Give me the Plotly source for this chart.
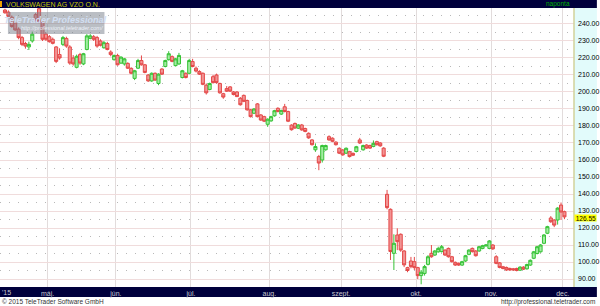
import numpy as np
import pandas as pd
import plotly.graph_objects as go

# ---- data ----
dates = pd.bdate_range("2015-04-14", "2015-12-01", freq="C", holidays=["2015-05-01"])

opens = [248.2, 247.0, 244.0, 240.5, 237.0, 232.0, 228.5, 226.5, 230.0, 245.5,
         249.0, 241.0, 234.0, 232.5, 231.0, 226.5, 222.0, 228.0, 231.5, 226.5,
         220.0, 214.5, 222.0, 216.5, 225.0, 231.5, 232.5, 232.0, 230.0, 226.0,
         228.5, 223.5, 219.0, 221.5, 217.0, 216.5, 216.8, 213.9, 208.0, 214.0,
         218.5, 216.0, 210.0, 206.5, 211.0, 205.0, 213.5, 215.0, 219.0, 220.8,
         215.5, 216.5, 208.5, 211.0, 211.0, 217.9, 214.0, 212.0, 211.0, 204.0,
         201.5, 209.0, 210.0, 205.0, 199.0, 202.0, 203.0, 200.0, 200.0, 196.3,
         198.0, 195.0, 189.5, 187.5, 193.0, 186.5, 185.5, 181.0, 183.0, 186.0,
         190.4, 187.0, 191.3, 188.5, 180.5, 181.5, 178.7, 180.6, 178.5, 175.7,
         171.8, 166.0, 162.0, 160.0, 166.0, 173.7, 172.8, 170.5, 166.9, 165.9,
         164.0, 164.9, 163.9, 165.0, 171.8, 166.0, 168.8, 168.5, 168.0, 170.8,
         170.0, 167.0, 139.8, 131.0, 105.1, 115.9, 116.3, 106.5, 96.7, 100.6,
         100.2, 96.7, 92.0, 93.3, 98.6, 105.1, 104.1, 106.0, 106.1, 107.0,
         108.0, 103.1, 99.8, 99.2, 98.2, 100.6, 104.5, 108.0, 106.5, 106.5,
         108.0, 109.5, 108.0, 110.0, 103.1, 99.5, 97.2, 96.8, 96.2, 96.0,
         96.2, 95.2, 97.0, 96.0, 98.2, 102.2, 105.0, 106.0, 111.0, 116.9,
         125.9, 124.7, 124.7, 133.5, 129.6]
highs = [249.0, 248.0, 245.0, 241.5, 238.0, 233.0, 229.5, 229.6, 235.5, 246.5,
         250.0, 242.0, 235.0, 233.5, 232.0, 227.0, 225.7, 233.0, 232.5, 227.5,
         221.7, 222.0, 223.0, 223.0, 234.0, 234.0, 233.5, 233.0, 231.0, 230.0,
         229.5, 224.5, 222.0, 222.5, 221.0, 220.0, 217.5, 214.5, 213.0, 219.5,
         221.5, 216.5, 210.5, 211.5, 211.5, 211.0, 214.0, 219.0, 224.0, 221.5,
         220.0, 223.0, 213.0, 211.5, 219.5, 219.5, 215.0, 212.8, 211.5, 205.0,
         205.5, 210.0, 210.8, 205.5, 199.5, 203.5, 203.5, 200.5, 200.5, 197.0,
         198.5, 195.5, 190.0, 190.5, 193.5, 187.0, 186.0, 184.5, 186.0, 189.5,
         191.0, 189.5, 193.0, 189.0, 181.0, 182.0, 181.0, 181.2, 179.0, 176.2,
         172.3, 169.8, 163.0, 169.0, 169.0, 174.5, 173.3, 171.0, 167.4, 166.4,
         167.4, 165.4, 164.4, 168.3, 173.0, 169.0, 169.3, 169.0, 171.5, 171.3,
         170.5, 167.5, 142.4, 131.5, 116.3, 119.8, 116.8, 107.0, 97.2, 103.0,
         103.0, 97.2, 95.3, 98.3, 104.0, 110.0, 107.0, 109.0, 110.0, 107.5,
         108.5, 103.6, 100.3, 99.7, 100.7, 104.2, 107.5, 108.5, 107.0, 109.5,
         110.1, 110.5, 112.9, 110.5, 104.0, 100.0, 97.7, 97.3, 96.7, 96.5,
         96.7, 97.5, 97.5, 99.0, 101.5, 106.5, 109.5, 110.5, 116.4, 121.3,
         127.0, 125.2, 132.2, 135.0, 130.2]
lows = [246.0, 243.8, 237.8, 236.0, 231.0, 227.0, 225.5, 224.7, 229.0, 241.5,
        240.5, 230.0, 230.0, 229.0, 228.0, 217.0, 219.0, 227.0, 226.0, 216.0,
        215.5, 213.9, 216.0, 215.8, 224.5, 231.0, 230.0, 226.0, 226.8, 225.5,
        224.5, 221.0, 218.5, 215.5, 216.5, 215.5, 213.5, 210.5, 207.0, 213.5,
        215.5, 211.0, 206.0, 206.0, 206.5, 204.0, 210.0, 214.5, 218.5, 217.5,
        215.0, 216.0, 208.0, 208.0, 210.5, 214.5, 211.5, 210.0, 204.0, 198.5,
        201.0, 205.0, 205.0, 199.0, 196.0, 200.0, 200.0, 198.0, 197.0, 192.0,
        194.0, 189.0, 185.0, 187.0, 185.0, 183.0, 182.3, 179.5, 182.5, 185.5,
        188.0, 186.5, 188.0, 182.3, 177.3, 178.3, 178.2, 177.2, 176.3, 172.5,
        168.5, 164.9, 154.0, 158.5, 165.5, 171.3, 170.5, 168.5, 163.5, 162.5,
        163.5, 161.5, 162.3, 164.5, 169.5, 165.5, 166.5, 166.5, 167.5, 168.5,
        167.8, 161.7, 131.0, 101.2, 95.3, 107.0, 106.0, 97.0, 94.0, 96.3,
        95.3, 90.0, 86.9, 92.0, 98.0, 102.5, 103.6, 105.5, 105.6, 103.6,
        102.6, 99.7, 97.7, 97.7, 97.7, 100.1, 104.0, 105.6, 103.2, 106.0,
        107.5, 109.0, 107.5, 107.2, 98.7, 96.3, 95.7, 94.8, 94.8, 94.9,
        94.5, 94.7, 95.3, 95.5, 97.7, 101.7, 104.5, 105.5, 110.5, 116.4,
        123.0, 120.5, 122.0, 124.7, 125.2]
closes = [246.6, 244.5, 238.5, 236.5, 232.0, 228.0, 227.0, 228.0, 234.0, 242.5,
          241.5, 231.0, 231.0, 229.6, 228.6, 218.0, 220.0, 232.0, 227.0, 217.0,
          216.5, 221.0, 217.0, 222.5, 233.0, 233.0, 231.0, 227.0, 227.5, 229.0,
          225.0, 222.0, 221.5, 216.0, 220.5, 219.5, 214.0, 211.0, 212.5, 218.5,
          216.0, 211.5, 206.5, 211.0, 207.0, 210.5, 210.5, 218.5, 222.5, 218.0,
          219.5, 221.5, 212.5, 208.5, 218.5, 215.0, 212.3, 210.5, 204.5, 199.5,
          205.0, 205.5, 205.5, 199.5, 197.0, 200.5, 200.5, 198.5, 197.3, 192.5,
          194.5, 189.5, 185.5, 190.0, 185.5, 183.5, 182.8, 184.0, 185.5, 189.0,
          188.5, 189.2, 188.5, 182.8, 177.8, 178.8, 180.6, 177.7, 176.8, 173.0,
          169.0, 167.9, 158.2, 168.5, 168.5, 171.8, 171.0, 169.0, 164.0, 163.0,
          166.9, 162.0, 162.8, 167.8, 170.0, 168.5, 167.0, 167.0, 169.8, 169.0,
          168.3, 162.2, 132.0, 106.2, 111.0, 112.0, 107.0, 98.3, 95.0, 97.3,
          96.7, 92.0, 94.0, 97.3, 103.1, 103.1, 106.5, 108.0, 109.0, 104.1,
          103.1, 100.2, 98.2, 98.2, 100.2, 103.7, 107.0, 106.1, 103.7, 109.0,
          109.6, 110.0, 112.4, 107.7, 99.2, 96.8, 96.2, 95.3, 95.3, 95.4,
          95.0, 97.0, 95.8, 98.5, 101.0, 106.0, 109.0, 110.0, 115.9, 120.8,
          123.7, 121.7, 131.7, 129.4, 126.55]

month_names = {5: "máj.", 6: "jún.", 7: "júl.", 8: "aug.", 9: "szept.",
               10: "okt.", 11: "nov.", 12: "dec."}
year_label = "'15"
title_text = "VOLKSWAGEN AG VZO O.N."
period_text = "naponta"
last_price = closes[-1]

# ---- derived ----
idx = np.arange(len(dates))
months = dates.month
tickvals, ticktext = [], []
for k in range(1, len(dates)):
    if months[k] != months[k - 1]:
        tickvals.append(k - 0.5)
        ticktext.append(month_names[months[k]])

W, H = 600, 306
ML, MR, MT, MB = 0, 23, 8, 19
PW, PH = W - ML - MR, H - MT - MB


def px_x(p):
    return (p - ML) / PW


def px_y(p):
    return (H - MB - p) / PH


navy = "#00003c"
font_main = "Liberation Sans, Arial, sans-serif"

fig = go.Figure()
fig.add_trace(go.Candlestick(
    x=idx, open=opens, high=highs, low=lows, close=closes,
    text=[d.strftime("%Y-%m-%d") for d in dates], hoverinfo="text+y",
    increasing=dict(fillcolor="#a2eca2", line=dict(color="#36c236", width=1)),
    decreasing=dict(fillcolor="#f29494", line=dict(color="#e44848", width=1)),
    whiskerwidth=0, showlegend=False,
))

fig.update_layout(
    width=W, height=H, autosize=False,
    margin=dict(l=ML, r=MR, t=MT, b=MB, pad=0),
    paper_bgcolor="white", plot_bgcolor="white",
    boxgap=0.1, boxgroupgap=0,
    xaxis=dict(
        range=[-1.46, 166.8], rangeslider=dict(visible=False),
        tickmode="array", tickvals=tickvals, ticktext=ticktext,
        showgrid=True, gridcolor="#e2dcdc", gridwidth=1,
        zeroline=False, showline=False, ticks="",
        tickfont=dict(family=font_main, size=7, color="#c8c8d0"),
        ticklabelstandoff=1,
    ),
    yaxis=dict(
        range=[85.3, 249.4], side="right", dtick=10, tick0=0,
        tickformat=".2f", showgrid=True, gridcolor="#f0dcdc", gridwidth=1,
        zeroline=False, showline=False, ticks="",
        tickfont=dict(family=font_main, size=7, color="#000000"),
        ticklabelstandoff=3,
        minor=dict(dtick=5, tick0=0, showgrid=True, gridcolor="#b8b8b8",
                   griddash="1px,8px", gridwidth=1),
    ),
    hovermode="closest",
)

shapes = [
    # right axis panel
    dict(type="rect", xref="paper", yref="paper", x0=1, x1=px_x(W), y0=0, y1=1,
         fillcolor="#e2fbfb", line=dict(width=0), layer="below"),
    dict(type="line", xref="paper", yref="paper", x0=1, x1=1, y0=0, y1=1,
         line=dict(color="#d2d29a", width=1.5), layer="above"),
    # top bar
    dict(type="rect", xref="paper", yref="paper", x0=px_x(0), x1=px_x(W),
         y0=1, y1=px_y(0), fillcolor=navy, line=dict(width=0), layer="below"),
    dict(type="rect", xref="paper", yref="paper", x0=px_x(0), x1=px_x(2),
         y0=px_y(7), y1=px_y(1), fillcolor="#f0a000", line=dict(width=0), layer="below"),
    # bottom bar
    dict(type="rect", xref="paper", yref="paper", x0=px_x(0), x1=px_x(W),
         y0=px_y(297), y1=0, fillcolor=navy, line=dict(width=0), layer="below"),
    # watermark box
    dict(type="rect", xref="paper", yref="paper", x0=px_x(8), x1=px_x(105),
         y0=px_y(34), y1=px_y(12), fillcolor="rgba(118,126,138,0.5)",
         line=dict(width=0), layer="above"),
]
fig.update_layout(shapes=shapes)

ann = [
    dict(text=title_text, x=px_x(4), y=px_y(4), xref="paper", yref="paper",
         xanchor="left", yanchor="middle", showarrow=False,
         font=dict(family=font_main, size=7, color="#c8c800")),
    dict(text=period_text, x=px_x(575), y=px_y(4), xref="paper", yref="paper",
         xanchor="right", yanchor="middle", showarrow=False,
         font=dict(family=font_main, size=6.5, color="#00b400")),
    dict(text=year_label, x=px_x(0), y=px_y(292.5), xref="paper", yref="paper",
         xanchor="left", yanchor="middle", showarrow=False,
         font=dict(family=font_main, size=7, color="#c8c8d0")),
    dict(text="© 2015 TeleTrader Software GmbH", x=px_x(0), y=px_y(301.5),
         xref="paper", yref="paper", xanchor="left", yanchor="middle",
         showarrow=False, font=dict(family=font_main, size=6.5, color="#333333")),
    dict(text="http://professional.teletrader.com", x=px_x(600), y=px_y(301.5),
         xref="paper", yref="paper", xanchor="right", yanchor="middle",
         showarrow=False, font=dict(family=font_main, size=6.5, color="#333333")),
    dict(text="<b><i>TeleTrader Professional</i></b>", x=px_x(56), y=px_y(20),
         xref="paper", yref="paper", xanchor="center", yanchor="middle",
         showarrow=False, font=dict(family=font_main, size=9, color="#d2def2")),
    dict(text="<i>http://professional.teletrader.com/</i>", x=px_x(62), y=px_y(28.5),
         xref="paper", yref="paper", xanchor="center", yanchor="middle",
         showarrow=False, font=dict(family=font_main, size=5.5, color="#eef2fa")),
    dict(text=f"{last_price:.2f}", x=px_x(577.5), y=last_price, xref="paper", yref="y",
         xanchor="left", yanchor="middle", yshift=-1.5, showarrow=False,
         bgcolor="#ffff00", borderpad=0, width=21, height=6, align="right",
         font=dict(family=font_main, size=6.5, color="#000000")),
]
fig.update_layout(annotations=ann)

fig.write_html("out.html")
